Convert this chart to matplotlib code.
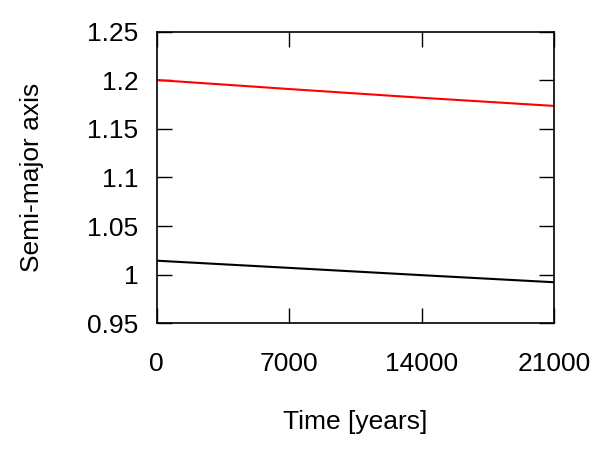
import matplotlib
matplotlib.use("Agg")
import matplotlib.pyplot as plt

# valores
tempo = [0, 7000, 14000, 21000]
a_externo = [1.2003, 1.1910, 1.1820, 1.1736]  # curva vermelha
a_interno = [1.0144, 1.0070, 0.9995, 0.9922]  # curva preta

xticks = [0, 7000, 14000, 21000]
yticks = [0.95, 1.0, 1.05, 1.1, 1.15, 1.2, 1.25]
ylabels = ["0.95", "1", "1.05", "1.1", "1.15", "1.2", "1.25"]

plt.rcParams['font.family'] = ['Liberation Sans', 'DejaVu Sans']

fig = plt.figure(figsize=(6, 4.5), dpi=100)
ax = fig.add_axes([0.261, 0.2816, 0.663, 0.648])

ax.plot(tempo, a_externo, color='#ff0000', lw=1.5)
ax.plot(tempo, a_interno, color='black', lw=1.5)

ax.set_xlim(0, 21000)
ax.set_ylim(0.95, 1.25)
ax.set_xticks(xticks)
ax.set_xticklabels([str(t) for t in xticks])
ax.set_yticks(yticks)
ax.set_yticklabels(ylabels)

ax.tick_params(direction='in', length=11, width=1, top=True, right=True, labelsize=19)
ax.tick_params(axis='x', pad=21)
ax.tick_params(axis='y', pad=13)
for s in ax.spines.values():
    s.set_linewidth(1.2)

ax.set_xlabel('Time [years]', fontsize=19, labelpad=24)
ax.set_ylabel('Semi-major axis', fontsize=19, labelpad=31)

fig.savefig('out.png', dpi=100)
